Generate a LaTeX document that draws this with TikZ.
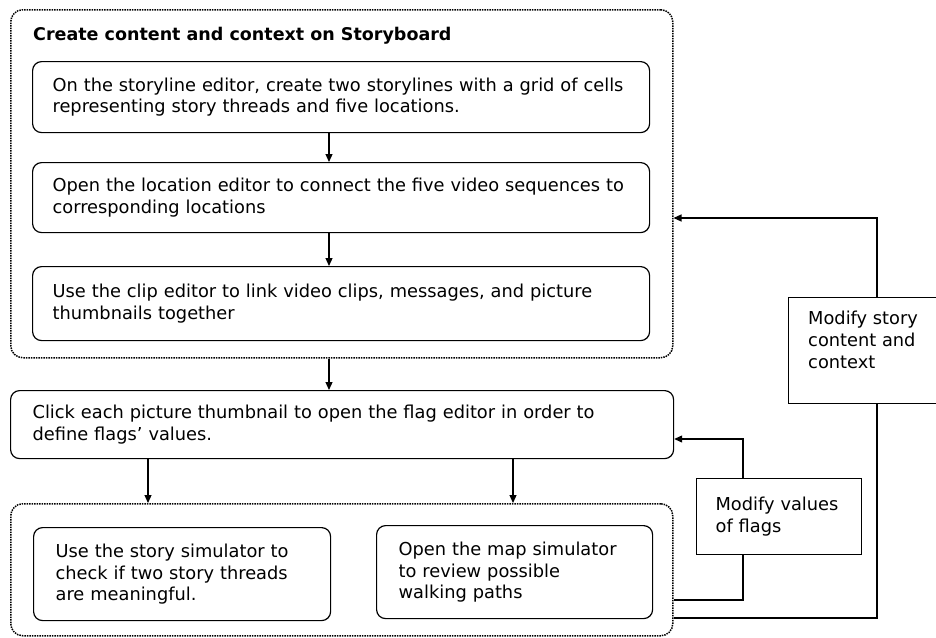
\documentclass[tikz,border=0pt]{standalone}
\usepackage{fontspec}
\setmainfont{DejaVu Sans}
\usetikzlibrary{arrows.meta,calc}
\begin{document}
\begin{tikzpicture}[x=1pt,y=-1pt,
  txt/.style={font=\fontsize{17.8}{21.8}\selectfont},
  rbox/.style={draw, line width=1.2pt, rounded corners=9pt, anchor=north west, align=left, inner ysep=0pt, txt},
  sbox/.style={draw, line width=1.2pt, anchor=north west, align=left, inner ysep=0pt, txt},
  group/.style={draw, line width=1.5pt, densely dotted, rounded corners=12pt, anchor=north west, inner sep=0pt},
  arr/.style={line width=1.2pt, -{Triangle[length=8pt,width=7pt]}},
  conn/.style={line width=1.2pt}
]
\useasboundingbox (0,0) rectangle (936,637);
\begin{scope}
\clip (0,0) rectangle (936,637);
% groups
\node[group, minimum width=662pt, minimum height=348pt] (topgroup) at (10,9) {};
\node[group, minimum width=662pt, minimum height=132pt] (botgroup) at (10,503) {};
\node[anchor=west, inner sep=0pt, font=\fontsize{17.5}{21.5}\selectfont\bfseries] (title) at (33,36) {Create content and context on Storyboard};
% boxes
\node[rbox, inner xsep=20pt, text width=577pt, minimum height=71pt] (b1) at (32,61)
  {On the storyline editor, create two storylines with a grid of cells\\representing story threads and five locations.};
\node[rbox, inner xsep=20pt, text width=577pt, minimum height=70pt] (b2) at (32,162)
  {Open the location editor to connect the five video sequences to\\corresponding locations};
\node[rbox, inner xsep=20pt, text width=577pt, minimum height=74pt] (b3) at (32,266)
  {Use the clip editor to link video clips, messages, and picture\\thumbnails together};
\node[rbox, inner xsep=22pt, text width=619pt, minimum height=68pt] (b4) at (10,390)
  {Click each picture thumbnail to open the flag editor in order to\\define flags' values.};
\node[rbox, inner xsep=22pt, text width=253pt, minimum height=93pt] (b5) at (33,527)
  {Use the story simulator to\\check if two story threads\\are meaningful.};
\node[rbox, inner xsep=22pt, text width=232pt, minimum height=93pt] (b6) at (376,525)
  {Open the map simulator\\to review possible\\walking paths};
\node[sbox, inner xsep=19pt, text width=127pt, minimum height=76pt] (flags) at (696,478)
  {Modify values\\of flags};
\node[draw, line width=1.2pt, anchor=north west, minimum width=160pt, minimum height=106pt] (storybox) at (788,297) {};
\node[anchor=north west, align=left, inner sep=0pt, txt] (storytext) at (808,311)
  {Modify story\\content and\\context};
% connectors
\coordinate (cx) at (329,0);
\coordinate (lx) at (148,0);
\coordinate (rx) at (513,0);
\coordinate (fx) at (743,0);
\coordinate (sx) at (877,0);
\coordinate (fy1) at (0,600);
\coordinate (fy2) at (0,439);
\coordinate (sy1) at (0,618);
\coordinate (sy2) at (0,218);
\draw[arr] (b1.south -| cx) -- (b2.north -| cx);
\draw[arr] (b2.south -| cx) -- (b3.north -| cx);
\draw[arr] (topgroup.south -| cx) -- (b4.north -| cx);
\draw[arr] (b4.south -| lx) -- (botgroup.north -| lx);
\draw[arr] (b4.south -| rx) -- (botgroup.north -| rx);
\draw[conn] (botgroup.east |- fy1) -| (flags.south -| fx);
\draw[arr] (flags.north -| fx) |- (b4.east |- fy2);
\draw[conn] (botgroup.east |- sy1) -| (storybox.south -| sx);
\draw[arr] (storybox.north -| sx) |- (topgroup.east |- sy2);
\end{scope}
\end{tikzpicture}
\end{document}
